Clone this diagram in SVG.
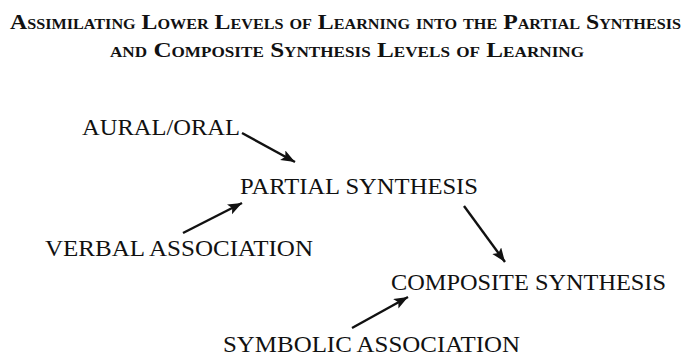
<svg xmlns="http://www.w3.org/2000/svg" width="686" height="356" viewBox="0 0 686 356">
<style>
.title{font-family:"Liberation Serif","Times New Roman",serif;font-weight:bold;font-variant:small-caps;font-size:22px;fill:#111}
.lbl{font-family:"Liberation Serif","Times New Roman",serif;font-size:24px;fill:#111}
.conn{stroke:#111;stroke-width:2.4;fill:none}
</style>
<defs>
<marker id="ah" markerUnits="userSpaceOnUse" markerWidth="16" markerHeight="12" refX="14" refY="5.5" orient="auto">
<path d="M0,0 L14,5.5 L0,11 L3,5.5 Z" fill="#111"/>
</marker>
</defs>
<rect width="686" height="356" fill="#fff"/>
<g id="title">
<text class="title" x="10" y="29" textLength="671" lengthAdjust="spacingAndGlyphs">Assimilating Lower Levels of Learning into the Partial Synthesis</text>
<text class="title" x="110" y="57" textLength="474" lengthAdjust="spacingAndGlyphs">and Composite Synthesis Levels of Learning</text>
</g>
<g id="aural-oral"><text class="lbl" x="82" y="135" textLength="158" lengthAdjust="spacingAndGlyphs">AURAL/ORAL</text></g>
<g id="partial-synthesis"><text class="lbl" x="240" y="194" textLength="238" lengthAdjust="spacingAndGlyphs">PARTIAL SYNTHESIS</text></g>
<g id="verbal-association"><text class="lbl" x="45" y="256" textLength="268" lengthAdjust="spacingAndGlyphs">VERBAL ASSOCIATION</text></g>
<g id="composite-synthesis"><text class="lbl" x="391" y="290" textLength="275" lengthAdjust="spacingAndGlyphs">COMPOSITE SYNTHESIS</text></g>
<g id="symbolic-association"><text class="lbl" x="223" y="352" textLength="297" lengthAdjust="spacingAndGlyphs">SYMBOLIC ASSOCIATION</text></g>
<g id="connectors">
<line class="conn" x1="242" y1="133" x2="295" y2="162" marker-end="url(#ah)"/>
<line class="conn" x1="183" y1="233" x2="242" y2="203" marker-end="url(#ah)"/>
<line class="conn" x1="464" y1="206" x2="505" y2="262" marker-end="url(#ah)"/>
<line class="conn" x1="352" y1="328" x2="408" y2="297" marker-end="url(#ah)"/>
</g>
</svg>
